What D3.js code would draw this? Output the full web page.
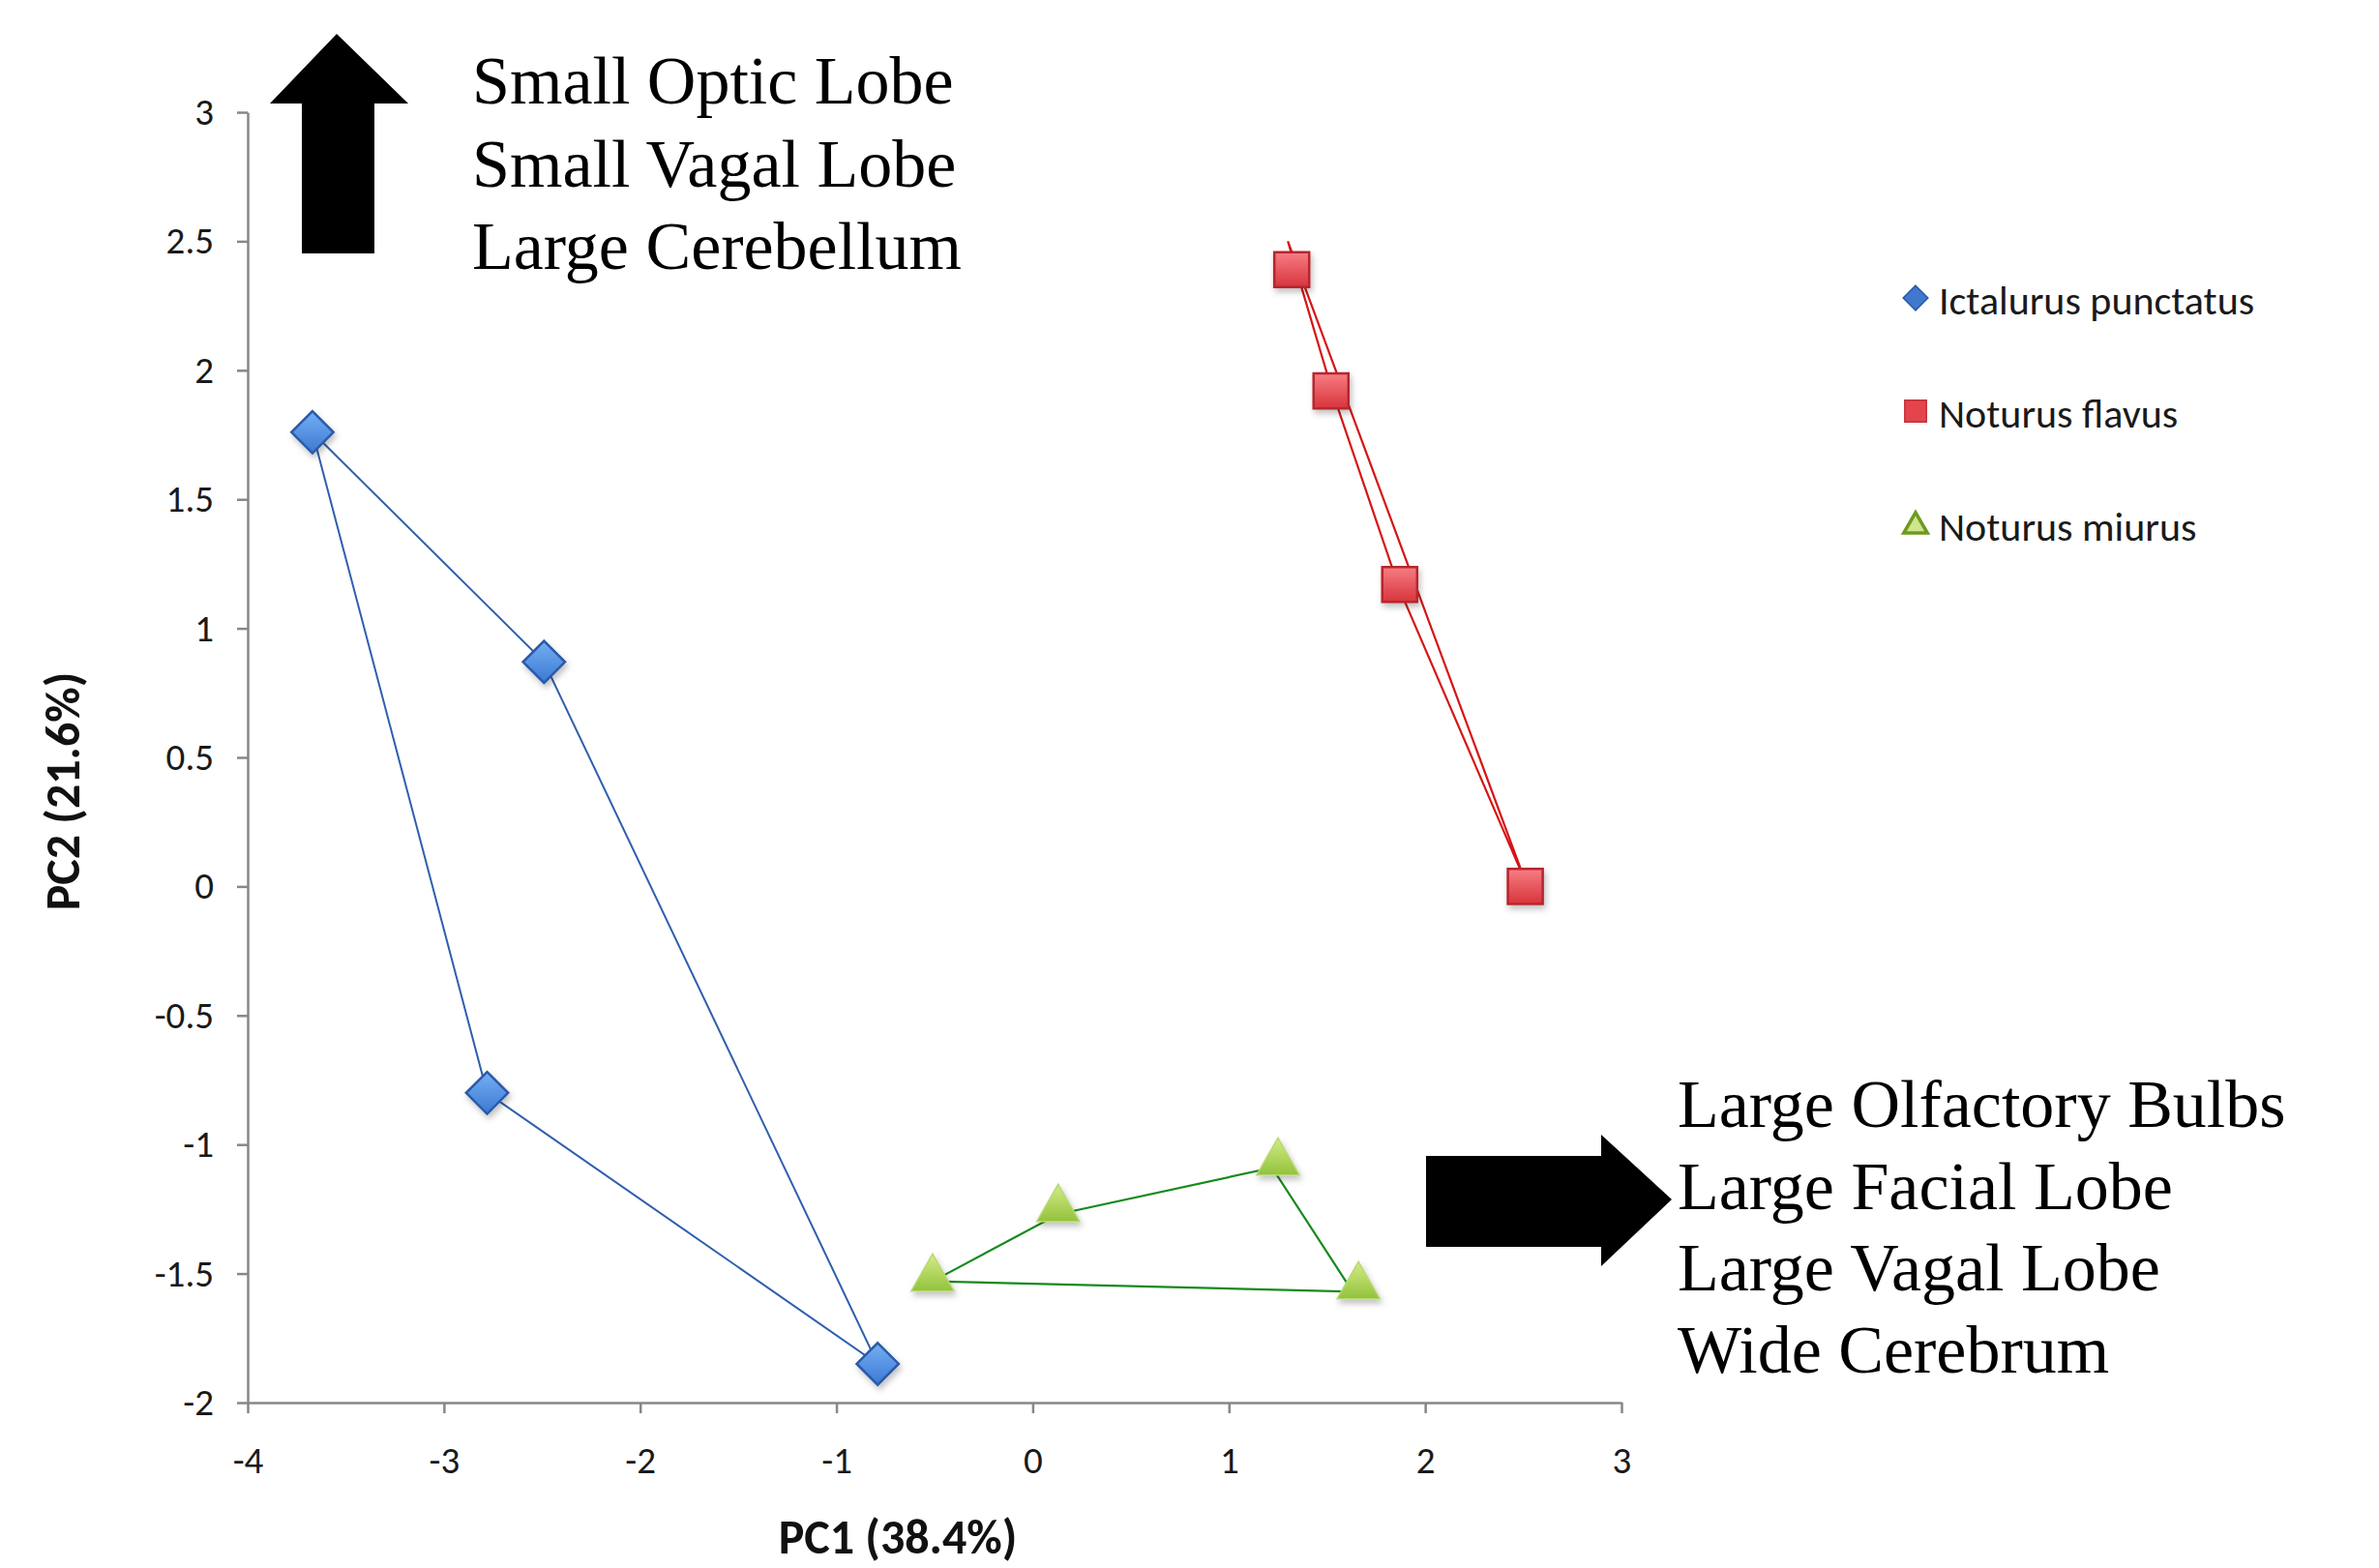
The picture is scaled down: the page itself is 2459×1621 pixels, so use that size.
<!DOCTYPE html>
<html>
<head>
<meta charset="utf-8">
<script src="https://cdn.jsdelivr.net/npm/d3@7"></script>
<style>
  body { margin: 0; background: #fff; }
  svg { display: block; }
</style>
</head>
<body>
<div id="chart"></div>
<script>
// PCA scores
const species = ["Ictalurus punctatus", "Noturus flavus", "Noturus miurus"];

const ictalurusX = [-3.67, -2.49, -2.78, -0.79];
const ictalurusY = [1.76, 0.87, -0.80, -1.85];

const flavusX = [1.32, 1.52, 1.87, 2.51];
const flavusY = [2.39, 1.92, 1.17, 0.00];

const miurusX = [-0.51, 0.13, 1.25, 1.66];
const miurusY = [-1.52, -1.25, -1.07, -1.55];

// convex hull outlines drawn as separate line series
const ictalurusHullX = [-3.67, -2.49, -0.79, -2.78, -3.67];
const ictalurusHullY = [1.76, 0.87, -1.85, -0.80, 1.76];
const flavusHullX = [1.30, 1.53, 1.87, 2.51, 1.30];
const flavusHullY = [2.50, 1.91, 1.15, 0.02, 2.50];
const miurusHullX = [-0.51, 0.13, 1.22, 1.63, -0.51];
const miurusHullY = [-1.53, -1.27, -1.09, -1.57, -1.53];

const xTicks = [-4, -3, -2, -1, 0, 1, 2, 3];
const yTicks = [-2, -1.5, -1, -0.5, 0, 0.5, 1, 1.5, 2, 2.5, 3];

const upLabels = ["Small Optic Lobe", "Small Vagal Lobe", "Large Cerebellum"];
const rightLabels = ["Large Olfactory Bulbs", "Large Facial Lobe", "Large Vagal Lobe", "Wide Cerebrum"];

const width = 2459, height = 1621;
const sansFont = "Carlito, Lato, 'Open Sans', sans-serif";
const serifFont = "'Liberation Serif', 'Times New Roman', serif";

const svg = d3.select("#chart").append("svg")
  .attr("width", width)
  .attr("height", height);

svg.append("rect").attr("width", width).attr("height", height).attr("fill", "#fff");

const defs = svg.append("defs");

function grad(id, top, bottom) {
  const g = defs.append("linearGradient").attr("id", id)
    .attr("x1", 0).attr("y1", 0).attr("x2", 0).attr("y2", 1);
  g.append("stop").attr("offset", "0%").attr("stop-color", top);
  g.append("stop").attr("offset", "100%").attr("stop-color", bottom);
}
grad("gBlue", "#74b0f4", "#3c78d2");
grad("gRed", "#f77d84", "#d8343c");
grad("gGreen", "#d2ec86", "#93c23c");

const shadow = defs.append("filter").attr("id", "shadow")
  .attr("x", "-50%").attr("y", "-50%").attr("width", "200%").attr("height", "200%");
shadow.append("feDropShadow")
  .attr("dx", 2).attr("dy", 4).attr("stdDeviation", 3)
  .attr("flood-color", "#000").attr("flood-opacity", 0.25);

const x = d3.scaleLinear().domain([-4, 3]).range([256, 1676]);
const y = d3.scaleLinear().domain([-2, 3]).range([1450, 116]);

// axes
const fmt = d => String(d);

const xAxis = svg.append("g")
  .attr("transform", `translate(0,${y(-2)})`)
  .call(d3.axisBottom(x).tickValues(xTicks).tickFormat(fmt)
    .tickSize(11).tickSizeOuter(0).tickPadding(34));

const yAxis = svg.append("g")
  .attr("transform", `translate(${x(-4)},0)`)
  .call(d3.axisLeft(y).tickValues(yTicks).tickFormat(fmt)
    .tickSize(11).tickSizeOuter(0).tickPadding(24));

[xAxis, yAxis].forEach(a => {
  a.select(".domain").attr("stroke", "#878787").attr("stroke-width", 2.5);
  a.selectAll(".tick line").attr("stroke", "#878787").attr("stroke-width", 2.5);
  a.selectAll(".tick text")
    .attr("fill", "#1a1a1a")
    .style("font-family", sansFont)
    .style("font-size", "39px");
});

// axis titles
svg.append("text")
  .attr("x", 928).attr("y", 1606)
  .attr("text-anchor", "middle")
  .style("font-family", sansFont).style("font-size", "50px").style("font-weight", "bold")
  .attr("fill", "#111")
  .text("PC1 (38.4%)");

svg.append("text")
  .attr("transform", "translate(82,818) rotate(-90)")
  .attr("text-anchor", "middle")
  .style("font-family", sansFont).style("font-size", "50px").style("font-weight", "bold")
  .attr("fill", "#111")
  .text("PC2 (21.6%)");

// hull lines
const line = d3.line().x(d => x(d[0])).y(d => y(d[1]));
const hulls = [
  { xs: ictalurusHullX, ys: ictalurusHullY, color: "#2f5fae", w: 2 },
  { xs: flavusHullX, ys: flavusHullY, color: "#d61414", w: 2.2 },
  { xs: miurusHullX, ys: miurusHullY, color: "#168a1e", w: 2.2 }
];
hulls.forEach(h => {
  svg.append("path")
    .datum(d3.zip(h.xs, h.ys))
    .attr("d", line)
    .attr("fill", "none")
    .attr("stroke", h.color)
    .attr("stroke-width", h.w);
});

// markers
const diamond = d3.symbol().type(d3.symbolDiamond2).size(1200);
const square = d3.symbol().type(d3.symbolSquare).size(1300);
const triangle = d3.symbol().type(d3.symbolTriangle).size(850);

const series = [
  { xs: ictalurusX, ys: ictalurusY, sym: diamond, fill: "url(#gBlue)", stroke: "#2a5aa8", sw: 2.5 },
  { xs: flavusX, ys: flavusY, sym: square, fill: "url(#gRed)", stroke: "#b6262d", sw: 2.5 },
  { xs: miurusX, ys: miurusY, sym: triangle, fill: "url(#gGreen)", stroke: "#b9d872", sw: 1.5 }
];
series.forEach(s => {
  svg.append("g").attr("filter", "url(#shadow)")
    .selectAll("path")
    .data(d3.zip(s.xs, s.ys))
    .join("path")
    .attr("transform", d => `translate(${x(d[0])},${y(d[1])})`)
    .attr("d", s.sym)
    .attr("fill", s.fill)
    .attr("stroke", s.stroke)
    .attr("stroke-width", s.sw);
});

// legend
const legendSyms = [
  { sym: d3.symbol().type(d3.symbolDiamond2).size(420), fill: "#3f78cc", stroke: "#2a5aa8", sw: 1.5 },
  { sym: d3.symbol().type(d3.symbolSquare).size(500), fill: "#e4454d", stroke: "#c0303a", sw: 1.5 },
  { sym: d3.symbol().type(d3.symbolTriangle).size(260), fill: "#cfe58e", stroke: "#6e9a22", sw: 3.5 }
];
const legendRows = [325, 442, 559];
const legend = svg.append("g");
species.forEach((name, i) => {
  const row = legend.append("g").attr("transform", `translate(1980,${legendRows[i]})`);
  row.append("path")
    .attr("transform", `translate(0,${i === 2 ? -15 : -17})`)
    .attr("d", legendSyms[i].sym)
    .attr("fill", legendSyms[i].fill)
    .attr("stroke", legendSyms[i].stroke)
    .attr("stroke-width", legendSyms[i].sw);
  row.append("text")
    .attr("x", 24).attr("y", 0)
    .style("font-family", sansFont).style("font-size", "42px")
    .attr("fill", "#1a1a1a")
    .text(name);
});

// annotation arrows
svg.append("path")
  .attr("d", "M348,35 L422,107 L387,107 L387,262 L312,262 L312,107 L279,107 Z")
  .attr("fill", "#000");
svg.append("path")
  .attr("d", "M1474,1195 L1655,1195 L1655,1173 L1728,1240 L1655,1309 L1655,1289 L1474,1289 Z")
  .attr("fill", "#000");

// annotation text
svg.append("g").selectAll("text")
  .data(upLabels)
  .join("text")
  .attr("x", 488)
  .attr("y", (d, i) => 107 + i * 85.5)
  .style("font-family", serifFont).style("font-size", "70px")
  .attr("fill", "#000")
  .text(d => d);

svg.append("g").selectAll("text")
  .data(rightLabels)
  .join("text")
  .attr("x", 1734)
  .attr("y", (d, i) => 1165 + i * 84.5)
  .style("font-family", serifFont).style("font-size", "70px")
  .attr("fill", "#000")
  .text(d => d);
</script>
</body>
</html>
